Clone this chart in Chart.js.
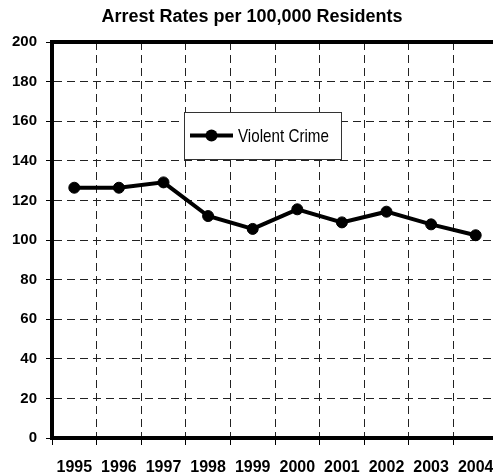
<!DOCTYPE html>
<html>
<head>
<meta charset="utf-8">
<script src="https://cdn.jsdelivr.net/npm/chart.js@4.4.1/dist/chart.umd.min.js"></script>
<style>
  html, body { margin: 0; padding: 0; background: #fff; overflow: hidden; }
</style>
</head>
<body>
<canvas id="chartArrests" width="500" height="476"></canvas>
<script>
const years = ['1995','1996','1997','1998','1999','2000','2001','2002','2003','2004'];
const violentCrime = [126.4, 126.4, 129.1, 112.1, 105.6, 115.5, 108.9, 114.3, 107.9, 102.4];
const yTicks = [0, 20, 40, 60, 80, 100, 120, 140, 160, 180, 200];

const FONT = 'Liberation Sans, Arial, sans-serif';

// heavy frame round the plot area
const frame = {
    id: 'frame',
    beforeDatasetsDraw(chart) {
        const { ctx, chartArea: a } = chart;
        ctx.save();
        ctx.strokeStyle = '#000';
        ctx.lineWidth = 4;
        ctx.strokeRect(a.left, a.top, a.right - a.left, a.bottom - a.top);
        ctx.restore();
    }
};

// boxed legend sitting inside the plot, label set in a condensed face
const boxLegend = {
    id: 'boxLegend',
    afterDatasetsDraw(chart) {
        const { ctx, chartArea: a } = chart;
        const ds = chart.data.datasets[0];
        const x = a.left + 132, y = a.top + 70, w = 157, h = 47;
        const cy = y + h / 2;
        ctx.save();
        ctx.fillStyle = '#fff';
        ctx.fillRect(x, y, w, h);
        ctx.strokeStyle = '#333';
        ctx.lineWidth = 1;
        ctx.strokeRect(x + 0.5, y + 0.5, w, h);
        ctx.strokeStyle = '#000';
        ctx.lineWidth = 4;
        ctx.beginPath();
        ctx.moveTo(x + 6, cy);
        ctx.lineTo(x + 49, cy);
        ctx.stroke();
        ctx.fillStyle = '#000';
        ctx.beginPath();
        ctx.arc(x + 27.5, cy, 6, 0, Math.PI * 2);
        ctx.fill();
        ctx.translate(x + 54, cy + 1);
        ctx.scale(0.8, 1);
        ctx.font = '19px ' + FONT;
        ctx.textBaseline = 'middle';
        ctx.fillText(ds.label, 0, 0);
        ctx.restore();
    }
};

new Chart(document.getElementById('chartArrests'), {
    type: 'line',
    data: {
        labels: years,
        datasets: [{
            label: 'Violent Crime',
            data: violentCrime,
            borderColor: '#000',
            backgroundColor: '#000',
            borderWidth: 4,
            pointRadius: 5.5,
            pointBorderWidth: 1,
            pointBackgroundColor: '#000',
            pointBorderColor: '#000',
            tension: 0,
        }]
    },
    options: {
        responsive: false,
        animation: false,
        layout: { autoPadding: false, padding: { left: 6, right: 2, top: 0, bottom: 0 } },
        plugins: {
            legend: { display: false },
            tooltip: { enabled: false },
            title: {
                display: true,
                text: 'Arrest Rates per 100,000 Residents',
                color: '#000',
                font: { family: FONT, size: 18, weight: 'bold', lineHeight: 1.2 },
                padding: { top: 6, bottom: 14.4 }
            }
        },
        scales: {
            x: {
                offset: true,
                grid: { offset: true, color: '#222', lineWidth: 1, tickLength: 7, tickColor: '#000' },
                border: { color: '#000', width: 4, dash: [8, 5] },
                ticks: { color: '#000', padding: 13, font: { family: FONT, size: 16, weight: 'bold' }, maxRotation: 0, autoSkip: false },
                afterFit(scale) {
                    scale.height = 38;
                    // plot runs on past the right edge of the canvas
                    scale.paddingLeft = 0;
                    scale.paddingRight = 0;
                }
            },
            y: {
                min: 0,
                max: 200,
                afterBuildTicks(scale) { scale.ticks = yTicks.map(v => ({ value: v })); },
                grid: { color: '#222', lineWidth: 1, tickLength: 6, tickColor: '#000' },
                border: { color: '#000', width: 4, dash: [8, 5] },
                ticks: { color: '#000', padding: 9, font: { family: FONT, size: 15, weight: 'bold' } },
                afterFit(scale) { scale.width = 46; }
            }
        }
    },
    plugins: [frame, boxLegend]
});
</script>
</body>
</html>
